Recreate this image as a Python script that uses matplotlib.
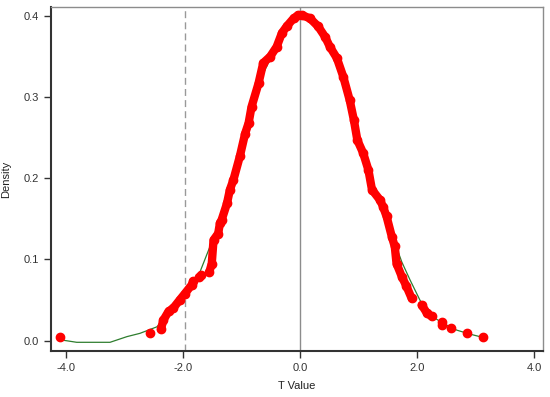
import matplotlib
matplotlib.use("Agg")
import matplotlib.pyplot as plt

plt.rcParams['font.family'] = ['Liberation Sans', 'DejaVu Sans']

# red points (dense runs are drawn as a band)
band1_t = [-2.38, -2.34, -2.25, -2.17, -2.06, -1.97, -1.85, -1.83]
band1_d = [0.014, 0.025, 0.036, 0.040, 0.050, 0.058, 0.069, 0.073]

band2_t = [-1.55, -1.51, -1.48, -1.40, -1.37, -1.34, -1.25, -1.20, -1.14, -1.03,
           -0.94, -0.88, -0.83, -0.71, -0.63, -0.51, -0.40, -0.31, -0.23, -0.11,
           -0.03, 0.03, 0.17, 0.31, 0.43, 0.51, 0.63, 0.74, 0.85, 0.92,
           0.98, 1.08, 1.17, 1.23, 1.37, 1.42, 1.48, 1.57, 1.62, 1.65,
           1.74, 1.82, 1.91]
band2_d = [0.085, 0.095, 0.124, 0.132, 0.145, 0.149, 0.169, 0.186, 0.198, 0.227,
           0.255, 0.268, 0.288, 0.317, 0.342, 0.350, 0.362, 0.379, 0.387, 0.397,
           0.401, 0.401, 0.397, 0.387, 0.374, 0.362, 0.348, 0.325, 0.296, 0.272,
           0.247, 0.231, 0.210, 0.186, 0.173, 0.165, 0.153, 0.128, 0.116, 0.095,
           0.079, 0.067, 0.052]

band3_t = [2.08, 2.17, 2.25]
band3_d = [0.044, 0.034, 0.030]

single_t = [-4.10, -2.56, -1.73, -1.70, 2.42, 2.42, 2.59, 2.86, 3.13]
single_d = [0.004, 0.009, 0.078, 0.081, 0.023, 0.019, 0.015, 0.009, 0.004]

# kernel density line
kd_t = [-4.10, -4.00, -3.82, -3.25, -2.96, -2.74, -2.45, -2.20, -2.00, -1.85,
        -1.71, -1.54, -1.42, -1.20, -1.00, -0.70, -0.40, -0.20, 0.00, 0.20,
        0.40, 0.60, 0.80, 1.00, 1.20, 1.40, 1.60, 1.74, 1.88, 2.05,
        2.22, 2.45, 2.68, 2.91, 3.13]
kd_d = [0.001, 0.000, -0.002, -0.002, 0.005, 0.009, 0.017, 0.036, 0.055, 0.068,
        0.085, 0.116, 0.136, 0.182, 0.232, 0.318, 0.364, 0.389, 0.400, 0.396,
        0.377, 0.352, 0.312, 0.252, 0.200, 0.168, 0.125, 0.097, 0.075, 0.050,
        0.032, 0.021, 0.013, 0.008, 0.004]

crit_t = -1.96
xticks = [-4.0, -2.0, 0.0, 2.0, 4.0]
yticks = [0.0, 0.1, 0.2, 0.3, 0.4]

fig = plt.figure(figsize=(5.5, 3.97), dpi=100)
ax = fig.add_axes([0.0927, 0.1159, 0.894, 0.8665])

red = '#ff0000'
ax.axvline(crit_t, color='#999999', lw=1.0, dashes=(5, 3), zorder=1)
ax.axvline(0, color='#8c8c8c', lw=1.0, zorder=1)
ax.plot(kd_t, kd_d, color='#2e7d2e', lw=0.9, zorder=2)
for bt, bd in [(band1_t, band1_d), (band2_t, band2_d), (band3_t, band3_d)]:
    ax.plot(bt, bd, '-o', color=red, lw=6.0, ms=6.0, solid_capstyle='round',
            solid_joinstyle='round', zorder=3)
ax.plot(single_t, single_d, 'o', color=red, ms=6.0, zorder=3)

ax.set_xlim(-4.26, 4.15)
ax.set_ylim(-0.0127, 0.411)
ax.set_xticks(xticks)
ax.set_xticklabels(['%.1f' % v for v in xticks])
ax.set_yticks(yticks)
ax.set_yticklabels(['%.1f' % v for v in yticks])
ax.tick_params(labelsize=8, colors='#333333', length=5, width=1)
ax.set_xlabel('T Value', fontsize=8, color='#222222', labelpad=6)
ax.set_ylabel('Density', fontsize=8, color='#222222', labelpad=9)

for s in ['left', 'bottom']:
    ax.spines[s].set_color('#333333')
    ax.spines[s].set_linewidth(1.5)
for s in ['top', 'right']:
    ax.spines[s].set_color('#8c8c8c')
    ax.spines[s].set_linewidth(1.0)

fig.savefig('out.png', dpi=100)
